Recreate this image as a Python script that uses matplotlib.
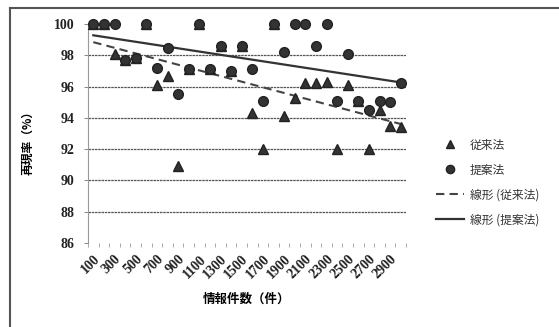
import numpy as np
import matplotlib
matplotlib.use("Agg")
import matplotlib.pyplot as plt
from matplotlib.lines import Line2D

plt.rcParams['font.family'] = ['Noto Sans CJK JP', 'DejaVu Sans']

# information count categories (件)
cats = [100, 200, 300, 400, 500, 600, 700, 800, 900, 1000,
        1100, 1200, 1300, 1400, 1500, 1600, 1700, 1800, 1900, 2000,
        2100, 2200, 2300, 2400, 2500, 2600, 2700, 2800, 2900, 3000]
# 従来法 (conventional) recall %
conv = [100, 100, 98.1, 97.7, 97.8, 100, 96.1, 96.7, 90.9, 97.1,
        100, 97.1, 98.6, 97.0, 98.6, 94.3, 92.0, 100, 94.1, 95.3,
        96.2, 96.2, 96.3, 92.0, 96.1, 95.1, 92.0, 94.5, 93.5, 93.4]
# 提案法 (proposed) recall %
prop = [100, 100, 100, 97.7, 97.8, 100, 97.2, 98.45, 95.5, 97.1,
        100, 97.1, 98.6, 97.0, 98.6, 97.1, 95.1, 100, 98.2, 100,
        100, 98.6, 100, 95.1, 98.1, 95.1, 94.5, 95.1, 95.0, 96.2]
yticks = [86, 88, 90, 92, 94, 96, 98, 100]

x = np.arange(len(cats))
fit_c = np.polyfit(x, conv, 1)
fit_p = np.polyfit(x, prop, 1)

fig = plt.figure(figsize=(5.59, 3.27), dpi=100)
ax = fig.add_axes([88/559, 1-243/327, (406-88)/559, (243-24)/327])

dark = '#333333'
ax.plot(x, conv, linestyle='none', marker='^', ms=6.5, color=dark, mec='#222222',
        label='従来法', zorder=3, clip_on=False)
ax.plot(x, prop, linestyle='none', marker='o', ms=7, color=dark, mec='#222222',
        label='提案法', zorder=4, clip_on=False)
ax.plot(x, np.polyval(fit_c, x), '--', color='#444444', lw=1.5, dashes=(4, 2.5),
        label='線形 (従来法)', zorder=2)
ax.plot(x, np.polyval(fit_p, x), '-', color='#333333', lw=1.6,
        label='線形 (提案法)', zorder=2)

ax.set_xlim(-0.5, len(cats) - 0.5)
ax.set_ylim(86, 100)
ax.set_yticks(yticks)
ax.set_yticklabels([str(v) for v in yticks], fontfamily='Liberation Serif',
                   fontsize=10, fontweight='bold', color='#222222')
for v in yticks[1:-1]:
    ax.axhline(v, color='#555555', lw=0.9, ls=(0, (2, 0.6)), zorder=1)

ax.set_xticks(x[::2])
ax.set_xticklabels([str(c) for c in cats[::2]], rotation=45, ha='right',
                   rotation_mode='anchor', fontfamily='Liberation Serif',
                   fontsize=10, fontweight='bold', color='#222222')
ax.set_xticks(np.arange(len(cats) + 1) - 0.5, minor=True)
ax.tick_params(axis='x', which='major', length=0, pad=7)
ax.tick_params(axis='x', which='minor', length=3, color='#aaaaaa', width=0.7)
ax.tick_params(axis='y', length=3, color='#888888', width=0.7, pad=7)

for s in ['top', 'right', 'bottom']:
    ax.spines[s].set_visible(False)
ax.spines['left'].set_color('#999999')
ax.spines['left'].set_linestyle((0, (1, 1)))
ax.spines['left'].set_linewidth(0.8)

ax.set_xlabel('情報件数（件）', fontsize=9, fontweight='bold', labelpad=8)
ax.set_ylabel('再現率（%）', fontsize=8.5, fontweight='bold')
ax.yaxis.set_label_coords(-0.17, 0.47)

leg = ax.legend(loc='upper left', bbox_to_anchor=(425/559, 1-128/327),
                bbox_transform=fig.transFigure, frameon=False, fontsize=8.5,
                handlelength=2.4, handletextpad=0.5, labelspacing=1.0,
                markerscale=0.85)
for t in leg.get_texts():
    t.set_color('#333333')

# chart area border (left and top)
fig.add_artist(Line2D([10/559, 10/559], [0, 1-8/327], transform=fig.transFigure,
                      color='#555555', lw=1.5))
fig.add_artist(Line2D([10/559, 1], [1-8/327, 1-8/327], transform=fig.transFigure,
                      color='#555555', lw=1.5))

fig.savefig('out.png', dpi=100)
